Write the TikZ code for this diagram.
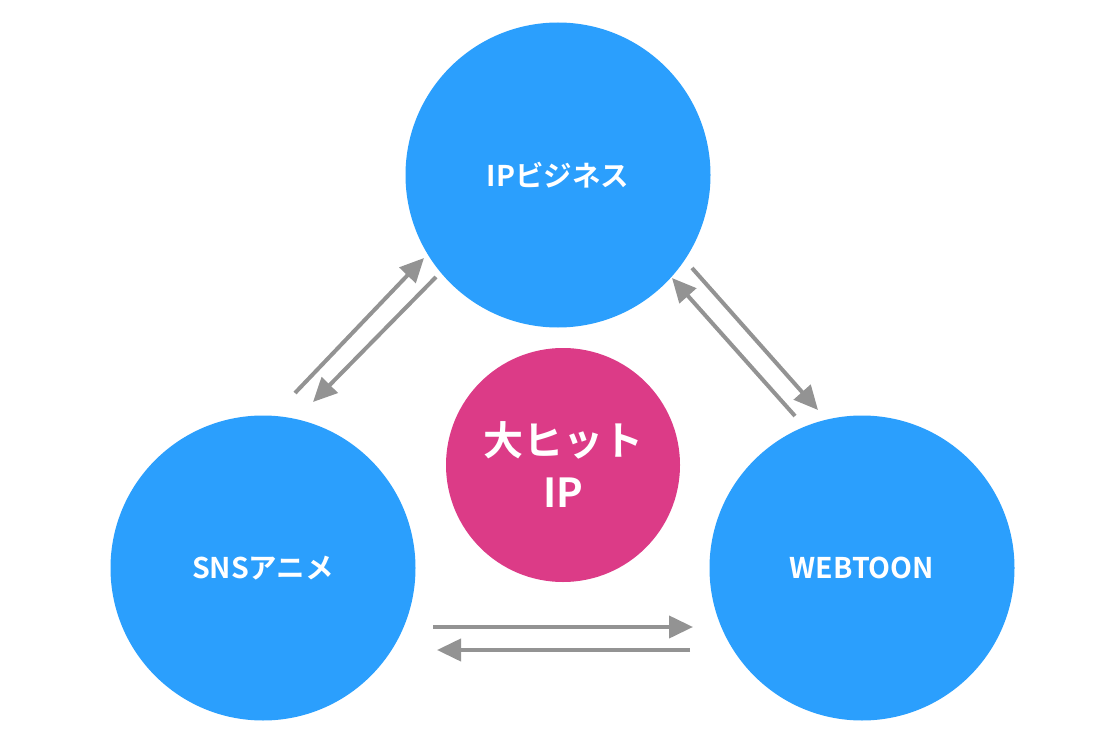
\documentclass[tikz,border=0pt]{standalone}
\usepackage{fontspec}
\newfontfamily\jp{Noto Sans CJK JP}[BoldFont={Noto Sans CJK JP Bold}]
\usetikzlibrary{arrows.meta}
\definecolor{cblue}{HTML}{2B9FFD}
\definecolor{cpink}{HTML}{DC3B87}
\definecolor{cgray}{HTML}{939393}
\tikzset{
  bluecirc/.style={circle, fill=cblue, draw=none, minimum size=305pt, inner sep=0pt, text=white, font=\jp\bfseries\fontsize{28.5}{34}\selectfont},
  pinkcirc/.style={circle, fill=cpink, draw=none, minimum size=234pt, inner sep=0pt, text=white, align=center, font=\jp\bfseries\fontsize{40}{52}\selectfont},
  flow/.style={draw=cgray, line width=4pt, -{Triangle[length=24pt,width=22pt]}, shorten >=0pt}
}
\begin{document}
\begin{tikzpicture}[x=1pt,y=-1pt]
\useasboundingbox (0,0) rectangle (1095,746);
\fill[white] (0,0) rectangle (1095,746);
\node[bluecirc] (ip) at (558,175) {IPビジネス};
\node[bluecirc] (sns) at (263,568) {SNSアニメ};
\node[bluecirc] (web) at (862,568) {WEBTOON};
\node[pinkcirc] (hit) at (563,465) {大ヒット\\IP};
% upper-left pair
\coordinate (a1s) at (295,393); \coordinate (a1e) at (424,258);
\coordinate (a2s) at (436,277); \coordinate (a2e) at (313,402);
% upper-right pair
\coordinate (b1s) at (692,268); \coordinate (b1e) at (818,410);
\coordinate (b2s) at (795,416); \coordinate (b2e) at (672,278);
% bottom pair
\coordinate (c1s) at (433,627); \coordinate (c1e) at (693,627);
\coordinate (c2s) at (690,650); \coordinate (c2e) at (437,650);
\draw[flow] (a1s) -- (a1e);
\draw[flow] (a2s) -- (a2e);
\draw[flow] (b1s) -- (b1e);
\draw[flow] (b2s) -- (b2e);
\draw[flow] (c1s) -- (c1e);
\draw[flow] (c2s) -- (c2e);
\end{tikzpicture}
\end{document}
